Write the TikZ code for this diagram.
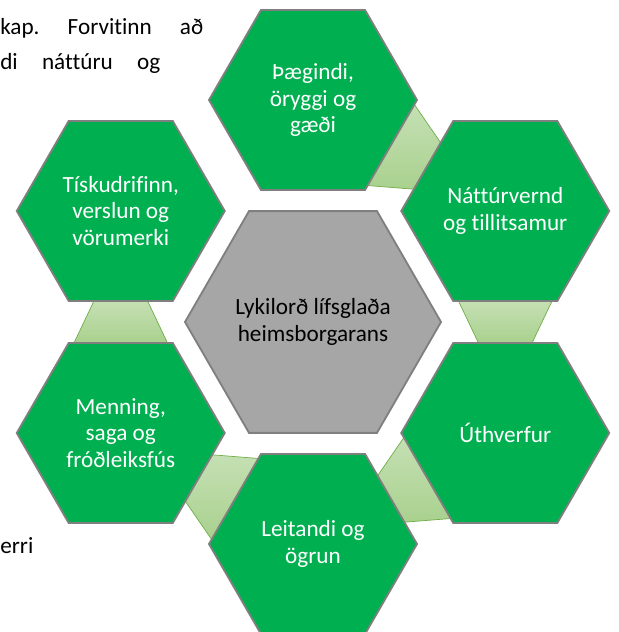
\documentclass[tikz,border=0pt]{standalone}
\usepackage{fontspec}
\setmainfont{Carlito}[Ligatures=CommonOff]
\usepackage{tikz}
\usetikzlibrary{shapes.geometric, calc, backgrounds}
\definecolor{HexGreen}{HTML}{00B050}
\definecolor{HexEdge}{HTML}{7F7F7F}
\definecolor{HubGrey}{HTML}{A6A6A6}
\definecolor{LinkLight}{HTML}{C5E0B4}
\definecolor{LinkDark}{HTML}{A9D18E}
\definecolor{LinkEdge}{HTML}{70AD47}
\newcommand{\hexfont}{\fontsize{16.5}{19}\selectfont}
\tikzset{
  % Hexagon styles
  hexnode/.style={regular polygon, regular polygon sides=6, minimum size=5.2cm, inner sep=0pt, draw=HexEdge, line width=1.3pt, fill=HexGreen, text=white, font=\hexfont, align=center},
  hubnode/.style={hexnode, minimum size=6.4cm, fill=HubGrey, text=black},
  % Link style
  linkbox/.style={draw=LinkEdge, line width=0.5pt, top color=LinkLight, bottom color=LinkDark},
  % Page text
  pagetext/.style={font=\hexfont, inner sep=0pt, anchor=base west}
}
% trapezoid link from hexagon #1 (wide end) to hexagon #2 (narrow end)
\newcommand{\hexlink}[2]{%
  \coordinate (wide) at ($(#1)!2.25cm!(#2)$);
  \coordinate (narrow) at ($(#1)!3.30cm!(#2)$);
  \draw[linkbox] ($(wide)!1.17cm!90:(#2)$) -- ($(wide)!1.17cm!-90:(#2)$)
    -- ($(narrow)!0.67cm!-90:(#2)$) -- ($(narrow)!0.67cm!90:(#2)$) -- cycle;
}
\begin{document}
\begin{tikzpicture}
  \useasboundingbox (-7.825,-7.75) rectangle (7.625,8.05);

  % Text of the page behind
  \node[pagetext] (line1) at (-7.825,7.175) {\hbox to 5.075cm{kap.\hfill Forvitinn\hfill að}};
  \node[pagetext] (line2) at (-7.825,6.3) {\hbox to 4.0cm{di\hfill náttúru\hfill og}};
  \node[pagetext] (line3) at (-7.825,-5.775) {erri};

  % Hub
  \node[hubnode] (hub) at (0,0) {Lykilorð lífsglaða\\heimsborgarans};

  % Outer hexagons
  \node[hexnode] (comfort) at (90:5.55) {Þægindi,\\öryggi og\\gæði};
  \node[hexnode] (nature) at (30:5.55) {Náttúrvernd\\og tillitsamur};
  \node[hexnode] (suburb) at (-30:5.55) {Úthverfur};
  \node[hexnode] (seeker) at (-90:5.55) {Leitandi og\\ögrun};
  \node[hexnode] (culture) at (-150:5.55) {Menning,\\saga og\\fróðleiksfús};
  \node[hexnode] (fashion) at (150:5.55) {Tískudrifinn,\\verslun og\\vörumerki};

  % Links
  \begin{scope}[on background layer]
    \hexlink{comfort}{nature}
    \hexlink{nature}{suburb}
    \hexlink{suburb}{seeker}
    \hexlink{seeker}{culture}
    \hexlink{culture}{fashion}
  \end{scope}
\end{tikzpicture}
\end{document}
